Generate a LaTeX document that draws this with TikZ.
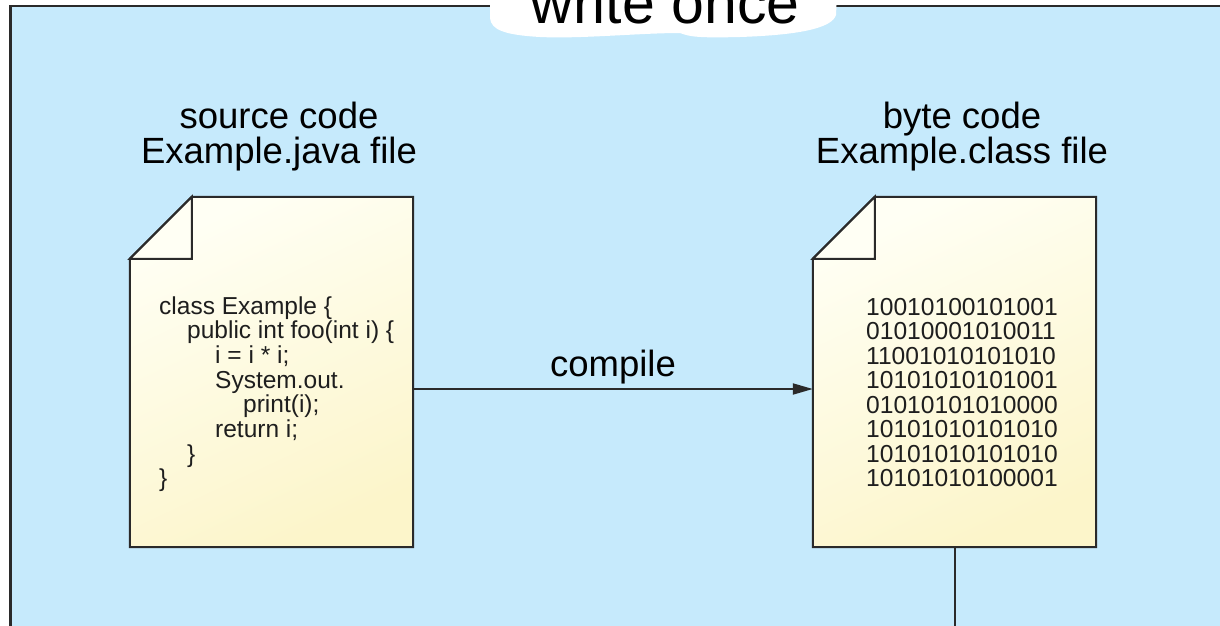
\documentclass[tikz,border=0pt]{standalone}
\usepackage{fontspec}
\setmainfont{Liberation Sans}
\usetikzlibrary{arrows.meta,calc}
\definecolor{bgblue}{HTML}{C6EAFC}
\definecolor{docA}{HTML}{FFFFF4}
\definecolor{docB}{HTML}{FCF5CA}
\definecolor{edge}{HTML}{2A2A2A}
\definecolor{ink}{HTML}{1E1E1E}
\tikzset{
  docbox/.style={minimum width=283pt, minimum height=350pt, inner sep=0pt, draw=none},
  docshape/.style={draw=edge, line width=2pt, line join=miter, top color=docA, bottom color=docB, shading angle=25},
  foldshape/.style={draw=edge, line width=2pt, fill=docA},
  headtxt/.style={inner sep=0pt, anchor=base, font=\fontsize{36.5}{36.5}\selectfont, text=black},
  codetxt/.style={inner sep=0pt, anchor=base west, font=\fontsize{24.5}{24.7}\selectfont, text=ink},
  titletxt/.style={inner sep=0pt, anchor=base, font=\fontsize{59}{59}\selectfont, text=black},
  conn/.style={draw=edge, line width=2pt},
  arr/.style={conn, -{Triangle[length=20pt,width=11pt]}}
}
\newcommand{\ctr}[1]{\hbox{\makebox[0pt]{#1}}}
\begin{document}
\begin{tikzpicture}[x=1pt,y=-1pt]
\useasboundingbox (0,0) rectangle (1220,626);
\fill[white] (0,0) rectangle (1220,626);
% background frame
\fill[bgblue] (11,6) rectangle (1230,640);
\draw[draw=edge, line width=2.5pt] (10.5,640) -- (10.5,6) -- (1230,6);
% title cloud
\fill[white] (490,-5) -- (490,18) .. controls (491,30) and (505,35) .. (540,37)
  .. controls (580,39) and (640,33) .. (680,33)
  .. controls (690,37) and (700,38) .. (740,37)
  .. controls (800,35) and (832,28) .. (836,15) -- (837,-5) -- cycle;
\node[titletxt] (title) at (665,24) {write once};
% headings
\node[headtxt] (h1) at (279,128) {\vtop{\baselineskip=35pt\ctr{source code}\ctr{Example.java file}}};
\node[headtxt] (h2) at (962,128) {\vtop{\baselineskip=35pt\ctr{byte code}\ctr{Example.class file}}};
% documents
\node[docbox] (src) at (271.5,372) {};
\node[docbox] (bin) at (954.5,372) {};
\foreach \d in {src,bin}{
  \path[docshape] ($(\d.north west)+(62,0)$) -- (\d.north east) -- (\d.south east)
     -- (\d.south west) -- ($(\d.north west)+(0,62)$) -- cycle;
  \path[foldshape] ($(\d.north west)+(62,0)$) -- ($(\d.north west)+(62,62)$)
     -- ($(\d.north west)+(0,62)$) -- cycle;
}
% texts inside
\node[codetxt] (code) at (159,314) {\vtop{\baselineskip=24.7pt
  \hbox{class Example \{}
  \hbox{\hspace{28pt}public int foo(int i) \{}
  \hbox{\hspace{56pt}i = i * i;}
  \hbox{\hspace{56pt}System.out.}
  \hbox{\hspace{84pt}print(i);}
  \hbox{\hspace{56pt}return i;}
  \hbox{\hspace{28pt}\}}
  \hbox{\}}}};
\node[codetxt, font=\fontsize{24.6}{24.5}\selectfont] (bits) at (866,315) {\vtop{\baselineskip=24.5pt
  \hbox{10010100101001}
  \hbox{01010001010011}
  \hbox{11001010101010}
  \hbox{10101010101001}
  \hbox{01010101010000}
  \hbox{10101010101010}
  \hbox{10101010101010}
  \hbox{10101010100001}}};
% connectors
\coordinate (ay) at (0,389);
\coordinate (bottom) at (0,640);
\draw[arr] (src.east |- ay) -- node[headtxt, above=13pt, anchor=base] (lbl) {compile} (bin.west |- ay);
\draw[conn] (bin.south) -- (bin.south |- bottom);
\end{tikzpicture}
\end{document}
